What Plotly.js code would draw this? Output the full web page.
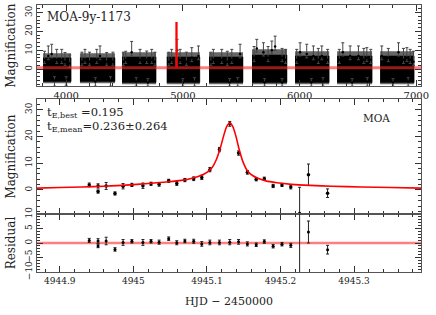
<!DOCTYPE html>
<html>
<head>
<meta charset="utf-8">
<script src="https://cdn.plot.ly/plotly-3.0.1.min.js"></script>
<style>html,body{margin:0;padding:0;background:#fff;}#chart{width:436px;height:315px;}</style>
</head>
<body>
<div id="chart"></div>
<script>
// ---- Top panel: full 9-year light curve (seasons drawn as dense bands) ----
const seasonStart = [3802, 4118, 4478, 4862, 5224, 5592, 5961, 6321, 6690];
const seasonEnd   = [4042, 4418, 4770, 5145, 5515, 5892, 6253, 6621, 6981];
const seasonHigh  = [6.0, 6.0, 6.5, 6.5, 6.5, 7.5, 7.0, 7.0, 7.0];      // dense core
const seasonLow   = [-6.5, -6.5, -7.0, -7.0, -7.0, -7.0, -7.0, -7.0, -7.0];
const fuzzHigh    = [8.5, 8.5, 9.0, 9.0, 9.0, 10.5, 9.5, 9.5, 9.5];     // sparse outer halo
const fuzzLow     = [-7.5, -7.5, -8.0, -8.0, -8.0, -8.0, -8.0, -8.0, -8.0];
// individual scattered points with long error bars (HJD, point value, error-bar top)
const spikeT = [3815, 3847, 3876, 3919, 3962, 3990, 4030, 4135, 4161, 4200, 4262, 4290, 4347, 4400,
                4490, 4510, 4561, 4633, 4690, 4733, 4760, 4880, 4904, 4950, 4976, 5030, 5076, 5133,
                5240, 5261, 5333, 5380, 5419, 5490, 5610, 5633, 5690, 5730, 5762, 5790, 5850, 5880,
                5975, 6004, 6061, 6118, 6160, 6190, 6240, 6340, 6370, 6433, 6504, 6550, 6576, 6610,
                6704, 6760, 6847, 6890, 6919, 6947, 6975];
const spikeV = [5, 7, 8, 5, 5, 4, 3, 4, 5, 4, 5, 7, 4, 4,
                4, 5, 9, 5, 5, 5, 4, 4, 5, 10, 5, 4, 6, 7,
                4, 5, 5, 4, 5, 8, 6, 11, 9, 6, 10, 12, 6, 5,
                5, 9, 8, 7, 5, 7, 5, 5, 9, 7, 7, 5, 6, 5,
                7, 6, 9, 5, 6, 5, 4];
const spikeTop = [9.5, 12.3, 13.2, 10.5, 10.5, 8.8, 7.5, 9.0, 10.5, 9.0, 10.5, 12.3, 8.8, 9.0,
                  9.0, 9.5, 14.7, 10.5, 9.6, 10.5, 9.0, 9.0, 10.5, 15.8, 10.5, 9.0, 11.4, 12.3,
                  9.0, 10.5, 10.5, 9.5, 10.5, 13.2, 12.0, 15.8, 14.0, 12.0, 14.9, 17.5, 11.0, 10.5,
                  10.5, 14.0, 13.2, 12.3, 11.0, 12.3, 10.5, 10.5, 14.0, 12.3, 12.3, 11.0, 11.4, 10.5,
                  12.3, 11.0, 14.0, 11.0, 11.4, 10.5, 9.5];
const dipT = [3900, 4000, 4250, 4380, 4600, 4700, 5000, 5100, 5400, 5470, 5700, 5850, 6100, 6200, 6450, 6580, 6800, 6930];
const dipV = [-6, -6, -6.5, -6, -6.5, -7, -7, -6.5, -7, -6.5, -7, -7, -7, -6.5, -7, -6.5, -7, -6.5];
const dipBottom = [-9, -8.5, -9, -9, -9, -9, -9, -9, -9, -9, -9, -9, -9, -9, -9, -9, -9, -9];
const fullRange = [3750, 7040];

// ---- Zoomed event: MOA data (HJD-2450000, magnification, error, residual, residual error) ----
const evtT = [4944.940, 4944.952, 4944.952, 4944.963, 4944.975, 4944.986, 4944.998, 4945.013,
              4945.024, 4945.035, 4945.048, 4945.059, 4945.070, 4945.082, 4945.093, 4945.104,
              4945.117, 4945.131, 4945.143, 4945.155, 4945.167, 4945.178, 4945.190, 4945.202,
              4945.214, 4945.226, 4945.238, 4945.264];
const evtA = [1.9, 1.5, -0.6, 1.5, -1.3, 1.4, 1.9, 1.6,
              2.3, 2.1, 3.4, 2.4, 3.7, 4.2, 4.7, 7.6,
              15.1, 24.7, 13.8, 6.6, 4.0, 4.2, 1.5, 1.9,
              1.1, -8.8, 5.7, -1.2];
const evtErrPlus  = [0.7, 0.8, 0.6, 1.3, 0.6, 1.0, 0.6, 1.0,
                     0.6, 0.7, 0.6, 0.7, 0.6, 0.7, 0.8, 0.8,
                     0.8, 0.9, 0.8, 0.7, 0.6, 0.6, 0.6, 0.6,
                     0.7, 9.8, 4.0, 1.6];
const evtErrMinus = [0.7, 0.8, 0.6, 1.3, 0.6, 1.0, 0.6, 1.0,
                     0.6, 0.7, 0.6, 0.7, 0.6, 0.7, 0.8, 0.8,
                     0.8, 0.9, 0.8, 0.7, 0.6, 0.6, 0.6, 0.6,
                     0.7, 20, 4.0, 1.6];
const resid = [0.9, 0.7, -1.0, 0.7, -2.2, 0.2, 0.6, 0.2,
               0.6, 0.3, 1.5, 0.1, 0.7, 0.6, -0.3, 0.2,
               0.2, 0.3, 0.4, -0.3, -0.6, 0.5, -1.1, -0.4,
               -0.8, -12, 3.8, -2.3];
const residErrPlus  = [0.7, 0.8, 0.6, 1.3, 0.6, 1.0, 0.6, 1.0,
                       0.6, 0.7, 0.6, 0.7, 0.6, 0.7, 0.8, 0.8,
                       0.8, 0.9, 0.8, 0.7, 0.6, 0.6, 0.6, 0.6,
                       0.7, 25, 3.8, 1.5];
const residErrMinus = [0.7, 0.8, 0.6, 1.3, 0.6, 1.0, 0.6, 1.0,
                       0.6, 0.7, 0.6, 0.7, 0.6, 0.7, 0.8, 0.8,
                       0.8, 0.9, 0.8, 0.7, 0.6, 0.6, 0.6, 0.6,
                       0.7, 10, 3.8, 1.5];

// ---- Best-fit model curve ----
const modelT = [4944.869, 4944.90, 4944.93, 4944.96, 4944.99, 4945.02, 4945.045, 4945.065,
                4945.08, 4945.09, 4945.10, 4945.107, 4945.113, 4945.118, 4945.123, 4945.127,
                4945.131, 4945.135, 4945.139, 4945.144, 4945.149, 4945.155, 4945.162, 4945.17,
                4945.18, 4945.195, 4945.215, 4945.24, 4945.27, 4945.31, 4945.35, 4945.391];
const modelA = [0.7, 0.9, 1.1, 1.4, 1.8, 2.4, 3.0, 3.6,
                4.4, 5.2, 6.6, 8.4, 11.5, 15.5, 20.5, 23.8,
                25.0, 23.8, 20.5, 15.0, 10.5, 7.2, 5.4, 4.3,
                3.4, 2.7, 2.1, 1.7, 1.4, 1.1, 0.9, 0.7];
const zoomRange = [4944.869, 4945.391];

const labelMain = 'MOA-9y-1173';
const labelBest = 't<sub>E,best</sub> =0.195';
const labelMean = 't<sub>E,mean</sub>=0.236±0.264';
const labelObs = 'MOA';

// build season band polygons (separated by gaps)
function bands(lo, hi) {
  const bx = [], by = [];
  for (let i = 0; i < seasonStart.length; i++) {
    bx.push(seasonStart[i], seasonEnd[i], seasonEnd[i], seasonStart[i], null);
    by.push(lo[i], lo[i], hi[i], hi[i], null);
  }
  return {bx, by};
}
const core = bands(seasonLow, seasonHigh);
const fuzz = bands(fuzzLow, fuzzHigh);
const spikePlus = spikeTop.map((t, i) => t - spikeV[i]);
const spikeMinus = spikeV.map(() => 2);
const dipMinus = dipBottom.map((b, i) => dipV[i] - b);
const dipPlus = dipV.map(() => 2);
const topModelT = [fullRange[0]].concat(modelT, [fullRange[1]]);
const topModelA = [modelA[0]].concat(modelA, [modelA[modelA.length - 1]]);

const errStyle = (plus, minus, color) => ({type: 'data', symmetric: false, array: plus, arrayminus: minus,
  color: color, thickness: 1, width: 1.5});

const traces = [
  {x: fuzz.bx, y: fuzz.by, xaxis: 'x', yaxis: 'y', type: 'scatter', mode: 'lines', fill: 'toself',
   fillcolor: 'rgba(0,0,0,0.6)', line: {width: 0}, connectgaps: false, hoverinfo: 'skip'},
  {x: core.bx, y: core.by, xaxis: 'x', yaxis: 'y', type: 'scatter', mode: 'lines', fill: 'toself',
   fillcolor: '#000', line: {color: '#000', width: 0.5}, connectgaps: false, hoverinfo: 'skip'},
  {x: spikeT, y: spikeV, xaxis: 'x', yaxis: 'y', type: 'scatter', mode: 'markers',
   marker: {color: '#000', size: 2.5}, error_y: errStyle(spikePlus, spikeMinus, '#444')},
  {x: dipT, y: dipV, xaxis: 'x', yaxis: 'y', type: 'scatter', mode: 'markers',
   marker: {color: '#000', size: 2.5}, error_y: errStyle(dipPlus, dipMinus, '#444')},
  {x: topModelT, y: topModelA, xaxis: 'x', yaxis: 'y', type: 'scatter', mode: 'lines',
   line: {color: 'rgba(255,40,40,0.6)', width: 3}},
  {x: modelT, y: modelA, xaxis: 'x', yaxis: 'y', type: 'scatter', mode: 'lines',
   line: {color: '#ff0000', width: 1.5}},

  {x: evtT, y: evtA, xaxis: 'x2', yaxis: 'y2', type: 'scatter', mode: 'markers',
   marker: {color: '#000', size: 3.5}, error_y: errStyle(evtErrPlus, evtErrMinus, '#222')},
  {x: modelT, y: modelA, xaxis: 'x2', yaxis: 'y2', type: 'scatter', mode: 'lines', line: {color: '#ff0000', width: 1.6, shape: 'spline', smoothing: 0.8}},

  {x: zoomRange, y: [0, 0], xaxis: 'x3', yaxis: 'y3', type: 'scatter', mode: 'lines',
   line: {color: 'rgba(255,40,40,0.6)', width: 2.5}},
  {x: evtT, y: resid, xaxis: 'x3', yaxis: 'y3', type: 'scatter', mode: 'markers',
   marker: {color: '#000', size: 3}, error_y: errStyle(residErrPlus, residErrMinus, '#222')}
];

const FONT = 'DejaVu Serif, serif';
const axisBase = {showline: true, linecolor: '#555', linewidth: 1, mirror: 'allticks', ticks: 'inside',
  ticklen: 6, tickcolor: '#333', tickwidth: 1, showgrid: false, zeroline: false,
  tickfont: {family: FONT, size: 9, color: '#222'}};
const minorX = (d) => ({dtick: d, ticks: 'inside', ticklen: 3, tickcolor: '#333', showgrid: false});
const titleFont = {family: FONT, size: 12, color: '#222'};

const layout = {
  width: 436, height: 315,
  margin: {l: 37, r: 15, t: 5, b: 43},
  paper_bgcolor: '#fff', plot_bgcolor: 'rgba(0,0,0,0)', showlegend: false,
  font: {family: FONT, size: 10, color: '#222'},
  xaxis: Object.assign({}, axisBase, {domain: [0, 1], anchor: 'y', range: fullRange, tick0: 0, dtick: 1000,
    minor: minorX(200), tickfont: {family: FONT, size: 10, color: '#222'}}),
  yaxis: Object.assign({}, axisBase, {domain: [0.696, 1], anchor: 'x', range: [-9, 34], tick0: 0, dtick: 10,
    tickangle: -90, minor: minorX(2), title: {text: 'Magnification', font: titleFont, standoff: 6}}),
  xaxis2: Object.assign({}, axisBase, {domain: [0, 1], anchor: 'y2', range: zoomRange, tick0: 4944.9, dtick: 0.1,
    showticklabels: false, minor: minorX(0.02)}),
  yaxis2: Object.assign({}, axisBase, {domain: [0.217, 0.648], anchor: 'x2', range: [-9, 34], tick0: 0, dtick: 10,
    tickangle: -90, minor: minorX(2), title: {text: 'Magnification', font: titleFont, standoff: 6}}),
  xaxis3: Object.assign({}, axisBase, {domain: [0, 1], anchor: 'y3', range: zoomRange, tick0: 4944.9, dtick: 0.1,
    tickformat: '.1~f', minor: minorX(0.02), title: {text: 'HJD − 2450000', font: {family: FONT, size: 11, color: '#222'}, standoff: 12}}),
  yaxis3: Object.assign({}, axisBase, {domain: [0, 0.217], anchor: 'x3', range: [-10, 10], tick0: 0, dtick: 5,
    tickangle: -90, minor: minorX(1), title: {text: 'Residual', font: titleFont, standoff: 6}}),
  annotations: [
    {text: labelMain, xref: 'x domain', yref: 'y domain', x: 0.021, y: 0.854, xanchor: 'left', yanchor: 'middle',
     showarrow: false, font: {family: FONT, size: 12, color: '#222'}},
    {text: labelBest, xref: 'x2 domain', yref: 'y2 domain', x: 0.021, y: 0.88, xanchor: 'left', yanchor: 'middle',
     showarrow: false, font: {family: FONT, size: 11.5, color: '#222'}},
    {text: labelMean, xref: 'x2 domain', yref: 'y2 domain', x: 0.021, y: 0.765, xanchor: 'left', yanchor: 'middle',
     showarrow: false, font: {family: FONT, size: 11.5, color: '#222'}},
    {text: labelObs, xref: 'x2 domain', yref: 'y2 domain', x: 0.885, y: 0.835, xanchor: 'center', yanchor: 'middle',
     showarrow: false, font: {family: FONT, size: 10.5, color: '#222'}}
  ]
};

Plotly.newPlot('chart', traces, layout, {staticPlot: true, displayModeBar: false});
</script>
</body>
</html>
